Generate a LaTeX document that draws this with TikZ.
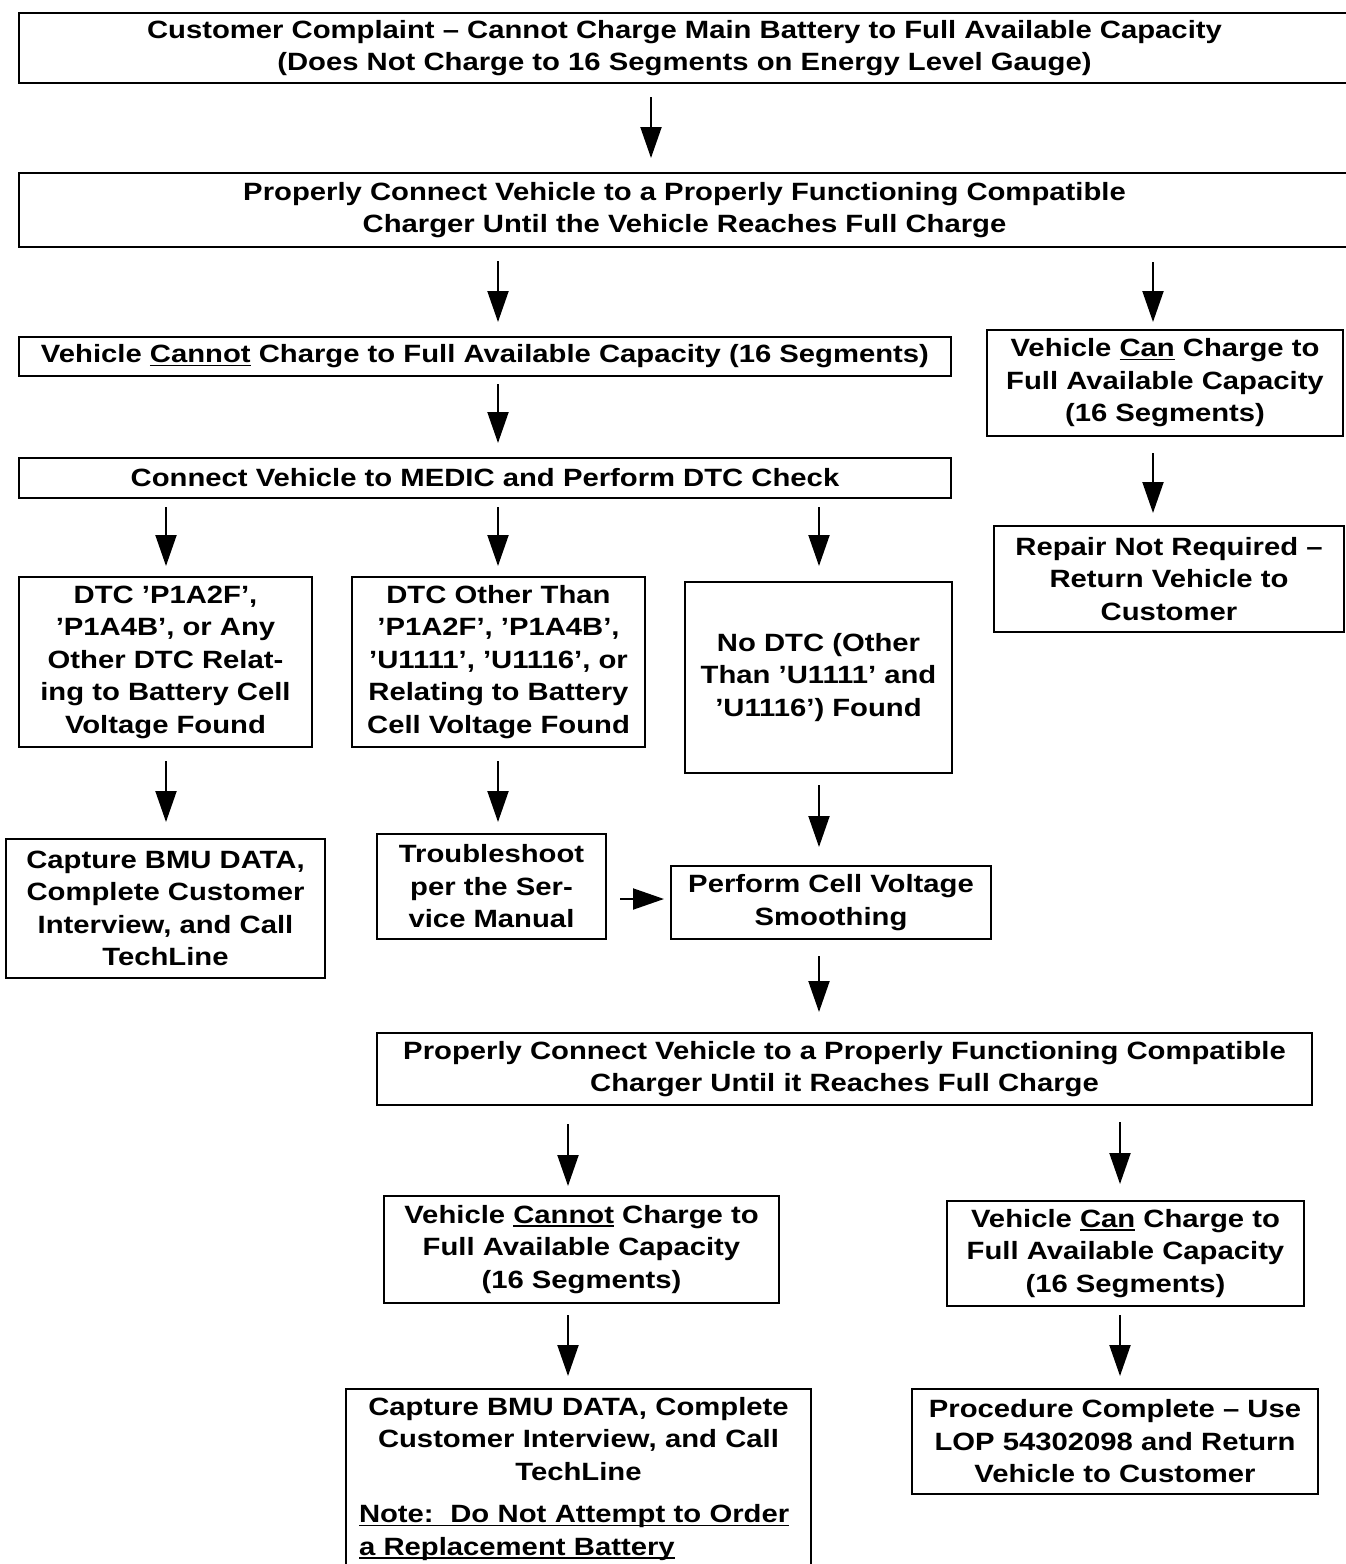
\documentclass[tikz,border=0pt]{standalone}
\usepackage{fontspec}
\setmainfont{Liberation Sans}[FakeStretch=1.17]
\usetikzlibrary{arrows.meta}
\newcommand{\myul}[1]{\leavevmode\setbox0\hbox{#1}\rlap{\rule[-3.5pt]{\wd0}{1.6pt}}\box0\relax}
\begin{document}
\begin{tikzpicture}[x=1pt,y=-1pt,
  box/.style={draw, line width=2pt, rectangle, inner sep=0pt, outer sep=0pt, align=center,
    font=\fontsize{25}{32.5}\selectfont\bfseries},
  arr/.style={line width=2pt, -{Triangle[length=31pt,width=21pt]}}]
\path[use as bounding box, fill=white] (0,0) rectangle (1345,1564);

% nodes
\node[box, minimum width=1331pt, minimum height=70pt] (top) at (684.5,48)
  {Customer Complaint – Cannot Charge Main Battery to Full Available Capacity\\(Does Not Charge to 16 Segments on Energy Level Gauge)};
\node[box, minimum width=1331pt, minimum height=74pt] (prop1) at (684.5,210)
  {Properly Connect Vehicle to a Properly Functioning Compatible\\Charger Until the Vehicle Reaches Full Charge};
\node[box, minimum width=932pt, minimum height=39pt] (cannot1) at (485,356.5)
  {Vehicle \myul{Cannot} Charge to Full Available Capacity (16 Segments)};
\node[box, minimum width=356pt, minimum height=106pt] (can1) at (1165,383)
  {Vehicle \myul{Can} Charge to\\Full Available Capacity\\(16 Segments)};
\node[box, minimum width=932pt, minimum height=40pt] (medic) at (485,478)
  {Connect Vehicle to MEDIC and Perform DTC Check};
\node[box, minimum width=350pt, minimum height=106pt] (repair) at (1169,579)
  {Repair Not Required –\\Return Vehicle to\\Customer};
\node[box, minimum width=293pt, minimum height=170pt] (dtcL) at (165.5,662)
  {DTC ’P1A2F’,\\’P1A4B’, or Any\\Other DTC Relat-\\ing to Battery Cell\\Voltage Found};
\node[box, minimum width=293pt, minimum height=170pt] (dtcM) at (498.5,662)
  {DTC Other Than\\’P1A2F’, ’P1A4B’,\\’U1111’, ’U1116’, or\\Relating to Battery\\Cell Voltage Found};
\node[box, minimum width=267pt, minimum height=191pt] (nodtc) at (818.5,677.5)
  {No DTC (Other\\Than ’U1111’ and\\’U1116’) Found};
\node[box, minimum width=319pt, minimum height=139pt] (captureL) at (165.5,908.5)
  {Capture BMU DATA,\\Complete Customer\\Interview, and Call\\TechLine};
\node[box, minimum width=229pt, minimum height=105pt] (trouble) at (491.5,886.5)
  {Troubleshoot\\per the Ser-\\vice Manual};
\node[box, minimum width=320pt, minimum height=73pt] (smooth) at (831,902.5)
  {Perform Cell Voltage\\Smoothing};
\node[box, minimum width=935pt, minimum height=72pt] (prop2) at (844.5,1069)
  {Properly Connect Vehicle to a Properly Functioning Compatible\\Charger Until it Reaches Full Charge};
\node[box, minimum width=395pt, minimum height=107pt] (cannot2) at (581.5,1249.5)
  {Vehicle \myul{Cannot} Charge to\\Full Available Capacity\\(16 Segments)};
\node[box, minimum width=357pt, minimum height=105pt] (can2) at (1125.5,1253.5)
  {Vehicle \myul{Can} Charge to\\Full Available Capacity\\(16 Segments)};
\node[box, anchor=north, text width=439pt, inner xsep=13pt, inner ysep=8pt] (captureB) at (578.5,1389)
  {Capture BMU DATA, Complete\\Customer Interview, and Call\\TechLine\par\vspace{10pt}%
   {\raggedright\myul{Note:\ \ Do Not Attempt to Order}\\\myul{a Replacement Battery}\par}%
   \vspace{20pt}\mbox{}};
\node[box, minimum width=406pt, minimum height=105pt] (proc) at (1115,1441.5)
  {Procedure Complete – Use\\LOP 54302098 and Return\\Vehicle to Customer};

% arrow columns
\coordinate (c1) at (651,0);
\coordinate (c2) at (498,0);
\coordinate (c3) at (1153,0);
\coordinate (c4) at (166,0);
\coordinate (c5) at (819,0);
\coordinate (c6) at (568,0);
\coordinate (c7) at (1120,0);
\coordinate (r1) at (0,899);

\draw[arr, shorten <=14pt, shorten >=15pt] (top.south -| c1) -- (prop1.north -| c1);
\draw[arr, shorten <=14pt, shorten >=15pt] (prop1.south -| c2) -- (cannot1.north -| c2);
\draw[arr, shorten <=15pt, shorten >=8pt] (prop1.south -| c3) -- (can1.north -| c3);
\draw[arr, shorten <=8pt, shorten >=15pt] (cannot1.south -| c2) -- (medic.north -| c2);
\draw[arr, shorten <=17pt, shorten >=13pt] (can1.south -| c3) -- (repair.north -| c3);
\draw[arr, shorten <=9pt, shorten >=11pt] (medic.south -| c4) -- (dtcL.north -| c4);
\draw[arr, shorten <=9pt, shorten >=11pt] (medic.south -| c2) -- (dtcM.north -| c2);
\draw[arr, shorten <=9pt, shorten >=16pt] (medic.south -| c5) -- (nodtc.north -| c5);
\draw[arr, shorten <=14pt, shorten >=17pt] (dtcL.south -| c4) -- (captureL.north -| c4);
\draw[arr, shorten <=14pt, shorten >=12pt] (dtcM.south -| c2) -- (trouble.north -| c2);
\draw[arr, shorten <=12pt, shorten >=19pt] (nodtc.south -| c5) -- (smooth.north -| c5);
\draw[arr, shorten <=14pt, shorten >=7pt] (trouble.east |- r1) -- (smooth.west |- r1);
\draw[arr, shorten <=17pt, shorten >=21pt] (smooth.south -| c5) -- (prop2.north -| c5);
\draw[arr, shorten <=19pt, shorten >=10pt] (prop2.south -| c6) -- (cannot2.north -| c6);
\draw[arr, shorten <=17pt, shorten >=17pt] (prop2.south -| c7) -- (can2.north -| c7);
\draw[arr, shorten <=12pt, shorten >=13pt] (cannot2.south -| c6) -- (captureB.north -| c6);
\draw[arr, shorten <=9pt, shorten >=13pt] (can2.south -| c7) -- (proc.north -| c7);
\end{tikzpicture}
\end{document}
